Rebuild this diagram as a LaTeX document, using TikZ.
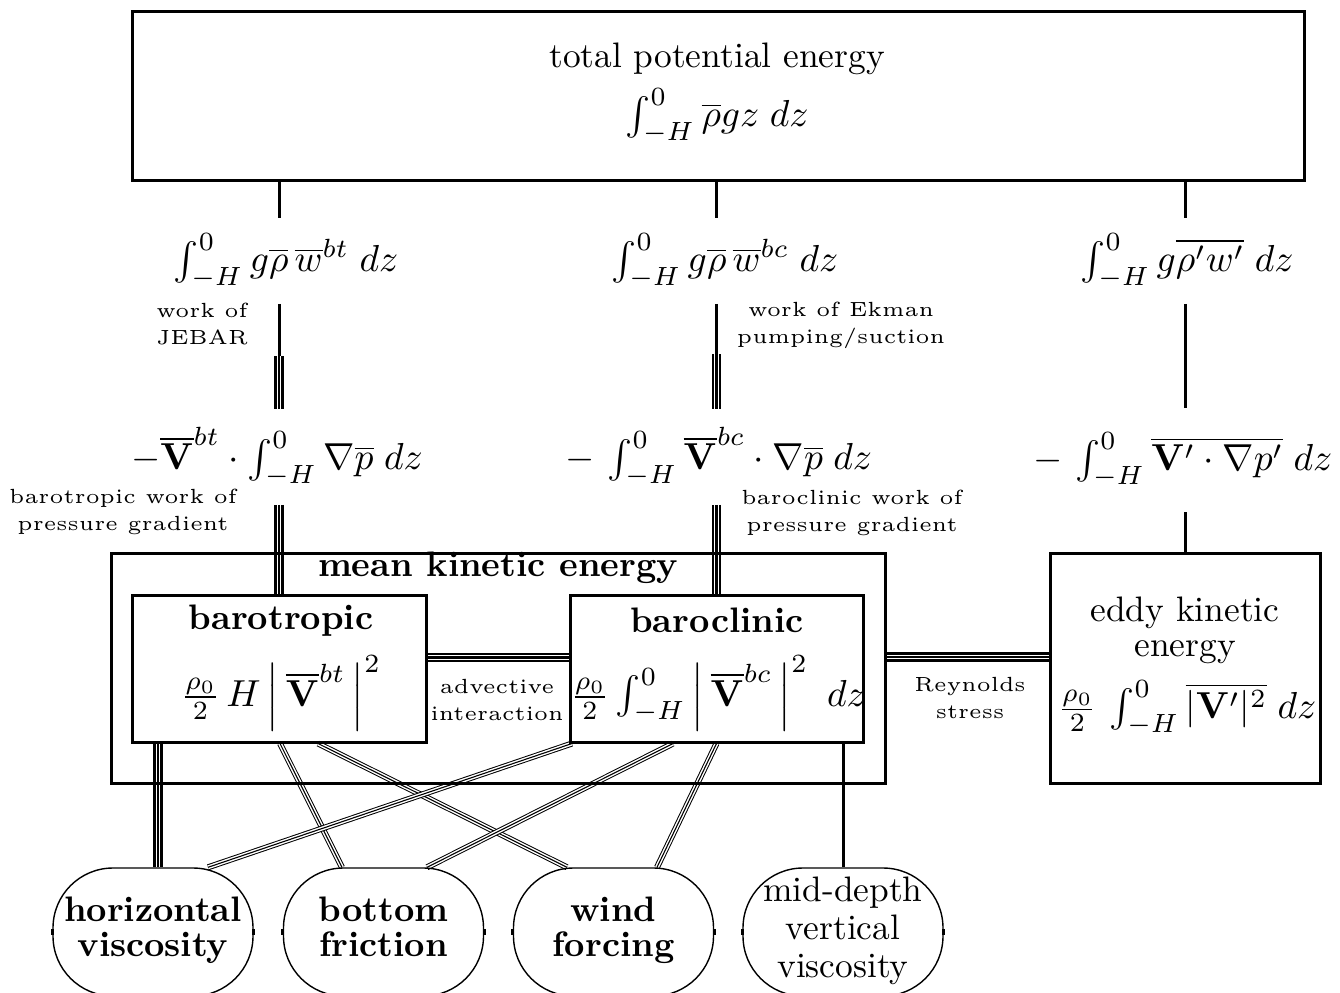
\documentclass[tikz,border=0pt]{standalone}
\usepackage{graphicx}
\usetikzlibrary{calc}
\pgfdeclarelayer{bg}
\pgfsetlayers{bg,main}
\newcommand{\T}[1]{\scalebox{1.77}{#1}}
\newcommand{\TT}[3][]{\scalebox{1.77}{\fontsize{10}{#2}\selectfont#1\begin{tabular}{@{}c@{}}#3\end{tabular}}}
\newcommand{\M}[1]{\scalebox{1.88}{$#1$}}
\newcommand{\Lb}[1]{\scalebox{2.05}{\fontsize{5}{6.6}\selectfont\begin{tabular}{@{}c@{}}#1\end{tabular}}}
\begin{document}
\begin{tikzpicture}[x=0.5pt,y=-0.5pt,
  box/.style={draw, line width=1.5pt, inner sep=0pt},
  txt/.style={inner sep=0pt, align=center},
  conn/.style={line width=1.5pt},
  trip/.style={line width=4.6pt, postaction={draw=white, line width=2.4pt}, postaction={draw=black, line width=1.1pt}},
  tripthin/.style={line width=3pt, postaction={draw=white, line width=2pt}, postaction={draw=black, line width=0.55pt}},
  sink/.style={draw, line width=0.7pt, rounded corners=30pt, minimum width=100pt, minimum height=64pt, inner sep=0pt, align=center}]
\useasboundingbox (0,0) rectangle (1340,992);
% top box
\node[box, minimum width=586pt, minimum height=84.5pt] (top) at (718,95.5) {};
\node[txt] (toptitle) at (717,59) {\T{total potential energy}};
\node[txt] (topf) at (717,116) {\M{\int_{-H}^{0}\overline{\rho}gz\;dz}};
% formulas row 1
\node[txt, minimum height=42.5pt] (f1) at (286,261) {\M{\int_{-H}^{0} g\overline{\rho}\,\overline{w}^{bt}\;dz}};
\node[txt, minimum height=42.5pt] (f2) at (725,261) {\M{\int_{-H}^{0} g\overline{\rho}\,\overline{w}^{bc}\;dz}};
\node[txt, minimum height=42.5pt] (f3) at (1187,261) {\M{\int_{-H}^{0} g\overline{\rho' w'}\;dz}};
% formulas row 2
\node[txt, minimum height=47.5pt] (f4) at (277,457) {\M{-\overline{\mathbf{V}}^{bt}\cdot\int_{-H}^{0}\nabla\overline{p}\;dz}};
\node[txt, minimum height=47.5pt] (f5) at (719,457) {\M{-\,\int_{-H}^{0}\overline{\mathbf{V}}^{bc}\cdot\nabla\overline{p}\;dz}};
\node[txt, minimum height=52pt] (f6) at (1183,460) {\M{-\,\int_{-H}^{0}\overline{\mathbf{V}'\cdot\nabla p'}\;dz}};
% labels
\node[txt] (lab1) at (202,326) {\Lb{work of\\JEBAR}};
\node[txt] (lab2) at (841,325) {\Lb{work of Ekman\\pumping/suction}};
\node[txt] (lab3) at (123,512) {\Lb{barotropic work of\\pressure gradient}};
\node[txt] (lab4) at (852,513) {\Lb{baroclinic work of\\pressure gradient}};
\node[txt] (lab5) at (497,702) {\Lb{advective\\interaction}};
\node[txt] (lab6) at (970,700) {\Lb{Reynolds\\stress}};
% kinetic energy boxes
\node[box, minimum width=387pt, minimum height=115pt] (mke) at (498,668) {};
\node[txt] (mketitle) at (498,568) {\T{\bfseries mean kinetic energy}};
\node[box, minimum width=147pt, minimum height=73.5pt] (bt) at (279,668.5) {};
\node[txt] (bttitle) at (281,621) {\T{\bfseries barotropic}};
\node[txt] (btf) at (281,693) {\M{\frac{\rho_0}{2}\,H\,\Big|\,\overline{\mathbf{V}}^{bt}\,\Big|^{2}}};
\node[box, minimum width=146.5pt, minimum height=73.5pt] (bc) at (716.5,668.5) {};
\node[txt] (bctitle) at (717,620) {\T{\bfseries baroclinic}};
\node[txt] (bcf) at (718,693) {\M{\frac{\rho_0}{2}\int_{-H}^{0}\Big|\,\overline{\mathbf{V}}^{bc}\,\Big|^{2}\enspace dz}};
\node[box, minimum width=135pt, minimum height=115pt] (ek) at (1185,668) {};
\node[txt] (ektitle) at (1185,632) {\TT{10}{eddy kinetic\\energy}};
\node[txt] (ekf) at (1187,708) {\M{\frac{\rho_0}{2}\,\int_{-H}^{0}\overline{|\mathbf{V}'|^2}\;dz}};
% sinks
\node[sink] (hv) at (153,932) {\TT[\bfseries]{10}{horizontal\\viscosity}};
\node[sink] (bf) at (383.5,932) {\TT[\bfseries]{10}{bottom\\friction}};
\node[sink] (wf) at (613.5,932) {\TT[\bfseries]{10}{wind\\forcing}};
\node[sink] (md) at (843,932) {\TT{10.8}{mid-depth\\vertical\\viscosity}};
\foreach \n in {hv,bf,wf,md}{
  \draw[line width=1.4pt] ([yshift=1.6pt]\n.west) -- ([yshift=-1.6pt]\n.west);
  \draw[line width=1.4pt] ([yshift=1.6pt]\n.east) -- ([yshift=-1.6pt]\n.east);
}
\begin{pgfonlayer}{bg}
\draw[conn] (top.south -| bt) -- (f1.north -| bt);
\draw[conn] (top.south -| bc) -- (f2.north -| bc);
\draw[conn] (top.south -| ek) -- (f3.north -| ek);
\draw[conn] (f1.south -| bt) -- (f4.north -| bt);
\draw[trip] ($(f4.north -| bt)+(0,-53)$) -- (f4.north -| bt);
\draw[conn] (f2.south -| bc) -- (f5.north -| bc);
\draw[trip] ($(f5.north -| bc)+(0,-55)$) -- (f5.north -| bc);
\draw[conn] (f3.south -| ek) -- (f6.north -| ek);
\draw[trip] (f4.south -| bt) -- (bt.north);
\draw[trip] (f5.south -| bc) -- (bc.north);
\draw[conn] (f6.south -| ek) -- (ek.north);
\draw[trip] ([yshift=5.5pt]bt.east) -- ([yshift=5.5pt]bc.west);
\draw[trip] ([yshift=5.5pt]mke.east) -- ([yshift=5.5pt]ek.west);
\draw[trip] ([xshift=-60.5pt]bt.south) -- ([xshift=2.5pt]hv.north);
\draw[tripthin] ([xshift=0.5pt]bt.south) -- ([xshift=-20.75pt]bf.north);
\draw[tripthin] ([xshift=19.5pt]bt.south) -- ([xshift=-23.25pt]wf.north);
\draw[tripthin] ([xshift=-72.25pt]bc.south) -- ([xshift=27.5pt]hv.north);
\draw[tripthin] ([xshift=-21.75pt]bc.south) -- ([xshift=21.75pt]bf.north);
\draw[tripthin] ([xshift=0pt]bc.south) -- ([xshift=21.75pt]wf.north);
\draw[conn] ([xshift=63.25pt]bc.south) -- (md.north);
\end{pgfonlayer}
\end{tikzpicture}
\end{document}
